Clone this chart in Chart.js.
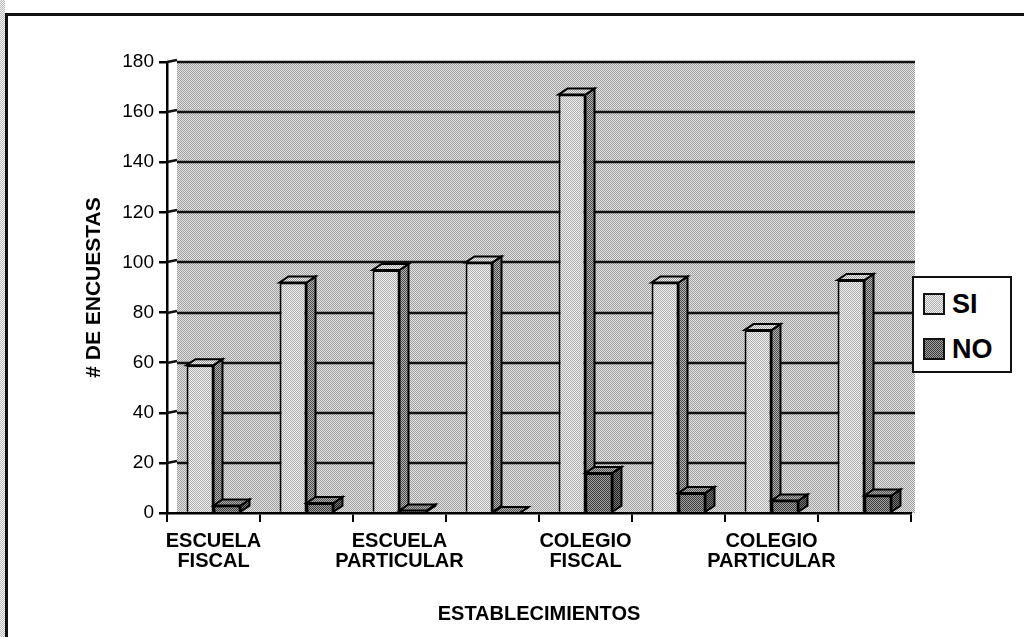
<!DOCTYPE html>
<html>
<head>
<meta charset="utf-8">
<script src="https://cdn.jsdelivr.net/npm/chart.js@4/dist/chart.umd.min.js"></script>
<style>
  html, body { margin:0; padding:0; background:#fff; }
  #wrap { position:relative; width:1024px; height:637px; overflow:hidden; background:#fff; font-family:"Liberation Sans", Arial, sans-serif; }
  #frame { position:absolute; left:5px; top:13px; width:1030px; height:640px; border-top:3px solid #111; border-left:3px solid #111; }
  #strip { position:absolute; left:0; top:0; width:5px; height:637px; background:repeating-conic-gradient(#bdbdbd 0 25%, #f0f0f0 0 50%) 0 0/2px 2px; }
  canvas { position:absolute; left:0; top:0; }
  #legend { position:absolute; left:912px; top:276px; width:96px; height:93px; border:2px solid #111; background:#fff; }
  .item { position:absolute; left:9px; height:26px; display:flex; align-items:center; }
  .sw { width:18px; height:18px; border:2px solid #111; margin-right:7px; }
  .lbl { font:bold 27px "Liberation Sans", Arial, sans-serif; color:#000; line-height:26px; }
</style>
</head>
<body>
<div id="wrap">
  <div id="strip"></div>
  <div id="frame"></div>
  <canvas id="c" width="1024" height="637"></canvas>
  <div id="legend">
    <div class="item" style="top:13px"><div class="sw" style="background:repeating-conic-gradient(#a9a9a9 0 25%, #f4f4f4 0 50%) 0 0/2px 2px"></div><span class="lbl" id="l0"></span></div>
    <div class="item" style="top:58px"><div class="sw" style="background:repeating-conic-gradient(#3c3c3c 0 25%, #a0a0a0 0 50%) 0 0/2px 2px"></div><span class="lbl" id="l1"></span></div>
  </div>
</div>
<script>
// ---- data ----
const tickLabels = [['ESCUELA','FISCAL'], '', ['ESCUELA','PARTICULAR'], '', ['COLEGIO','FISCAL'], '', ['COLEGIO','PARTICULAR'], ''];
const seriesNames = ['SI', 'NO'];
const siValues = [59, 92, 97, 100, 167, 92, 73, 93];
const noValues = [3, 4, 1, 0, 16, 8, 5, 7];
const yTitle = '# DE ENCUESTAS';
const xTitle = 'ESTABLECIMIENTOS';

document.getElementById('l0').textContent = seriesNames[0];
document.getElementById('l1').textContent = seriesNames[1];

const ctx = document.getElementById('c').getContext('2d');
function pat(light, dark) {
  const t = document.createElement('canvas');
  t.width = 2; t.height = 2;
  const g = t.getContext('2d');
  g.fillStyle = light; g.fillRect(0,0,2,2);
  g.fillStyle = dark; g.fillRect(0,0,1,1); g.fillRect(1,1,1,1);
  return ctx.createPattern(t, 'repeat');
}
const wallPat = pat('#e6e6e6', '#9c9c9c');
const siFront = pat('#f4f4f4', '#a9a9a9');
const siSide = pat('#b4b4b4', '#4a4a4a');
const siTop = pat('#f0f0f0', '#9a9a9a');
const noFront = pat('#a0a0a0', '#3c3c3c');
const noSide = pat('#7a7a7a', '#1e1e1e');
const noTop = pat('#b0b0b0', '#505050');

const D = 9, DY = 6, WALL = 10;
const faces = [{side: siSide, top: siTop}, {side: noSide, top: noTop}];

const wallPlugin = {
  id: 'wall',
  beforeDraw(chart) {
    const a = chart.chartArea, c = chart.ctx;
    c.save();
    c.fillStyle = wallPat;
    c.fillRect(a.left + WALL, a.top, a.right - a.left - WALL + 4, a.bottom - a.top);
    c.restore();
  },
  beforeDatasetsDraw(chart) {
    const a = chart.chartArea, c = chart.ctx, ys = chart.scales.y;
    c.save();
    c.strokeStyle = '#111'; c.lineWidth = 2.5;
    ys.ticks.forEach(t => {
      if (t.value === 0) return;
      const py = Math.round(ys.getPixelForValue(t.value));
      c.beginPath(); c.moveTo(a.left + WALL, py); c.lineTo(a.right + 4, py); c.stroke();
      c.beginPath(); c.moveTo(a.left, py); c.lineTo(a.left + WALL, py - 2); c.stroke();
    });
    c.restore();
  }
};
function faces3d(c, el, f) {
  const p = el.getProps(['x','y','base','width'], true);
  const l = p.x - p.width/2, r = p.x + p.width/2, y = p.y, b = p.base;
  c.beginPath();
  c.moveTo(r, y); c.lineTo(r + D, y - DY); c.lineTo(r + D, b - DY); c.lineTo(r, b); c.closePath();
  c.fillStyle = f.side; c.fill(); c.stroke();
  c.beginPath();
  c.moveTo(l, y); c.lineTo(l + D, y - DY); c.lineTo(r + D, y - DY); c.lineTo(r, y); c.closePath();
  c.fillStyle = f.top; c.fill(); c.stroke();
}
const depthPlugin = {
  id: 'depth',
  afterDatasetsDraw(chart) {
    const c = chart.ctx;
    const m0 = chart.getDatasetMeta(0), m1 = chart.getDatasetMeta(1);
    c.save();
    c.lineWidth = 2; c.strokeStyle = '#000'; c.lineJoin = 'miter';
    m0.data.forEach(el => faces3d(c, el, faces[0]));
    c.restore();
    m1.data.forEach(el => {
      el.draw(c);
      c.save();
      c.lineWidth = 2; c.strokeStyle = '#000'; c.lineJoin = 'miter';
      faces3d(c, el, faces[1]);
      c.restore();
    });
  }
};

const PADL = 78;
new Chart(ctx, {
  type: 'bar',
  data: {
    labels: tickLabels,
    datasets: [
      { label: seriesNames[0], data: siValues, backgroundColor: siFront, borderColor: '#000', borderWidth: 2 },
      { label: seriesNames[1], data: noValues, backgroundColor: noFront, borderColor: '#000', borderWidth: 2 }
    ]
  },
  options: {
    responsive: false,
    animation: false,
    devicePixelRatio: 1,
    layout: { padding: { left: PADL, right: 113, top: 62, bottom: 10 } },
    datasets: { bar: { categoryPercentage: 0.58, barPercentage: 1.0 } },
    plugins: { legend: { display: false }, tooltip: { enabled: false } },
    scales: {
      x: {
        afterFit(s) { s.height = 637 - 10 - 513; },
        grid: { drawOnChartArea: false, drawTicks: true, tickLength: 9, color: '#000', lineWidth: 2 },
        border: { display: true, color: '#000', width: 2.5 },
        ticks: { autoSkip: false, maxRotation: 0, minRotation: 0, padding: 9, color: '#000',
                 font: { family: '"Liberation Sans", Arial, sans-serif', size: 20, weight: 'bold', lineHeight: 1.0 } },
        title: { display: true, text: xTitle, color: '#000', padding: { top: 0, bottom: 1 },
                 font: { family: '"Liberation Sans", Arial, sans-serif', size: 20, weight: 'bold' } }
      },
      y: {
        min: 0, max: 180,
        afterFit(s) { s.width = 167 - PADL; },
        grid: { drawOnChartArea: false, color: '#000', lineWidth: 2.5, tickLength: 8, drawTicks: true },
        border: { display: true, color: '#000', width: 2.5 },
        ticks: { stepSize: 20, padding: 5, color: '#000',
                 font: { family: '"Liberation Sans", Arial, sans-serif', size: 19 } },
        title: { display: true, text: yTitle, color: '#000', padding: { top: 4, bottom: 0 },
                 font: { family: '"Liberation Sans", Arial, sans-serif', size: 21, weight: 'bold' } }
      }
    }
  },
  plugins: [wallPlugin, depthPlugin]
});
</script>
</body>
</html>
